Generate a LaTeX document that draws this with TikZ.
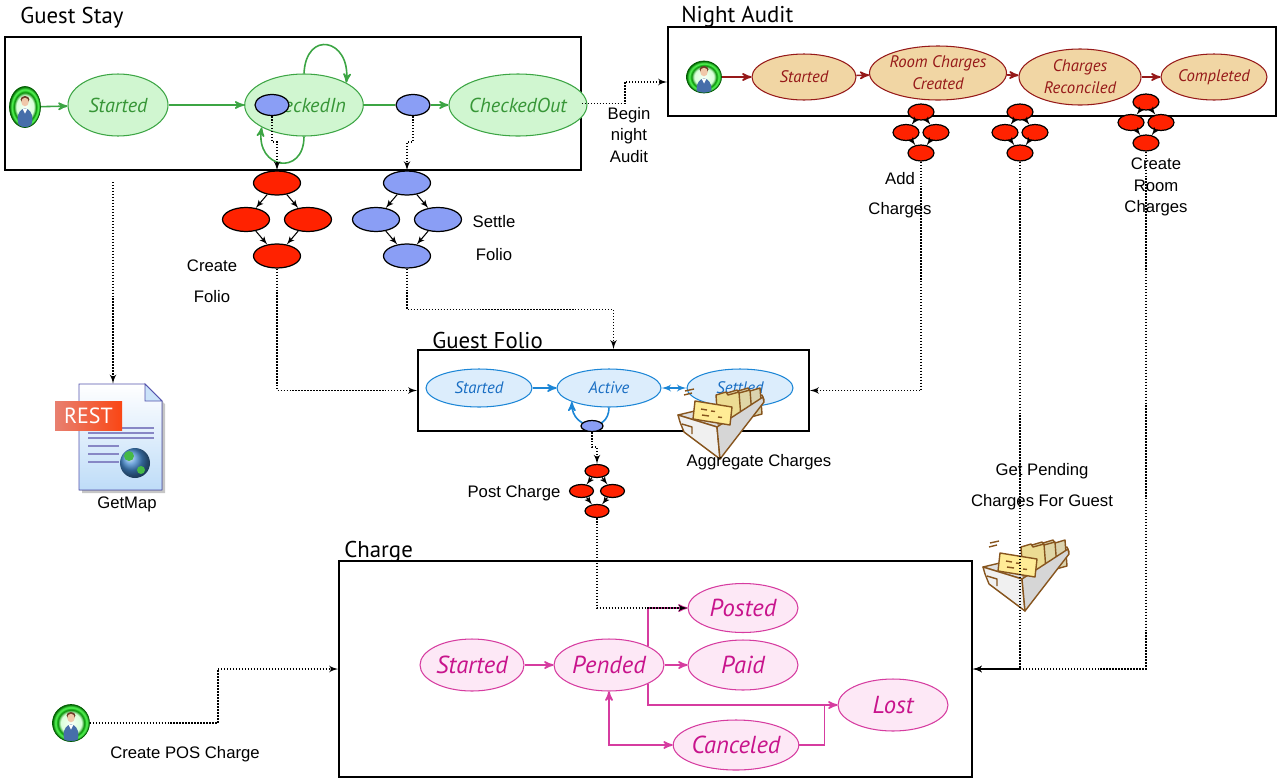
\documentclass[tikz,border=0pt]{standalone}
\usepackage{fontspec}
\setmainfont{Liberation Sans}
\newfontfamily\statefont{PT Sans}
\usetikzlibrary{arrows,shapes,positioning}

\definecolor{stayGreen}{RGB}{60,165,68}
\definecolor{stayFill}{RGB}{208,246,208}
\definecolor{stayText}{RGB}{55,150,55}
\definecolor{auditRed}{RGB}{150,25,25}
\definecolor{auditFill}{RGB}{241,214,164}
\definecolor{folioBlue}{RGB}{28,134,214}
\definecolor{folioFill}{RGB}{220,237,252}
\definecolor{folioText}{RGB}{25,110,195}
\definecolor{chargePink}{RGB}{214,60,160}
\definecolor{chargeFill}{RGB}{253,232,246}
\definecolor{chargeText}{RGB}{200,20,140}
\definecolor{flowRed}{RGB}{255,34,0}
\definecolor{flowBlue}{RGB}{138,158,245}
\definecolor{trayBrown}{RGB}{135,85,30}
\definecolor{cardYellow}{RGB}{255,236,150}
\definecolor{pageBlue}{RGB}{190,220,248}
\definecolor{globeBlue}{RGB}{70,140,210}
\definecolor{tagLeft}{RGB}{232,128,112}
\definecolor{tagRight}{RGB}{250,70,20}
\definecolor{skin}{RGB}{240,200,170}
\definecolor{hair}{RGB}{110,60,40}
\definecolor{bodyBlue}{RGB}{70,110,170}

\pgfdeclareradialshading{actorring}{\pgfpoint{0bp}{0bp}}{color(0bp)=(green!3);color(14bp)=(green!15);color(18bp)=(green!55!black);color(21bp)=(green!65);color(25bp)=(green!40!black);color(50bp)=(green!40!black)}

\tikzstyle{ell_state} = [ellipse, inner sep=0pt, line width=0.6pt]
\tikzstyle{stay} = [ell_state, draw=stayGreen, fill=stayFill, text=stayText, font=\statefont\itshape\fontsize{11.5}{14}\selectfont]
\tikzstyle{audit} = [ell_state, draw=auditRed, fill=auditFill, text=auditRed, align=center, font=\statefont\itshape\fontsize{9.5}{12.5}\selectfont]
\tikzstyle{folio} = [ell_state, draw=folioBlue, fill=folioFill, text=folioText, font=\statefont\itshape\fontsize{9.5}{12}\selectfont]
\tikzstyle{charge} = [ell_state, draw=chargePink, fill=chargeFill, text=chargeText, font=\statefont\itshape\fontsize{14}{16}\selectfont]
\tikzstyle{act_red} = [ellipse, draw, line width=0.7pt, fill=flowRed, inner sep=0pt]
\tikzstyle{act_blue} = [ellipse, draw, line width=0.7pt, fill=flowBlue, inner sep=0pt]
\tikzstyle{container} = [draw, line width=1pt, inner sep=0pt]
\tikzstyle{title} = [anchor=base west, inner sep=0pt, font=\statefont\fontsize{13}{15}\selectfont]
\tikzstyle{op_text} = [align=center, inner sep=0pt, font=\fontsize{9.5}{12}\selectfont]
\tikzstyle{call} = [->, >=latex', line width=0.8pt, dash pattern=on 0.8pt off 0.9pt]
\tikzstyle{flowline} = [->, >=latex', line width=0.6pt]
\tikzstyle{go_stay} = [->, >=stealth', draw=stayGreen, line width=0.9pt]
\tikzstyle{go_audit} = [->, >=stealth', draw=auditRed, line width=0.9pt]
\tikzstyle{go_folio} = [->, >=stealth', draw=folioBlue, line width=0.9pt]
\tikzstyle{go_charge} = [->, >=stealth', draw=chargePink, line width=0.9pt]
\tikzstyle{actor_icon} = [ellipse, inner sep=0pt, draw=green!35!black, line width=0.4pt, shading=actorring,
  path picture={
    \coordinate (actorMid) at (path picture bounding box.center);
    \fill[bodyBlue] ([yshift=-0.24cm]actorMid) ellipse (0.15cm and 0.21cm);
    \fill[white] ([yshift=-0.04cm]actorMid) -- ++(-0.045cm,0) -- ++(0.045cm,-0.09cm) -- ++(0.045cm,0.09cm) -- cycle;
    \fill[hair] ([yshift=0.15cm]actorMid) ellipse (0.09cm and 0.07cm);
    \fill[skin] ([yshift=0.1cm]actorMid) ellipse (0.075cm and 0.085cm);
  }]

% four activities: top, left, right, bottom
\newcommand{\flowdiamond}[5]{%
  \node[#3] (#1T) at #2 {};
  \node[#3, on grid, below left=#5 and #4 of #1T] (#1L) {};
  \node[#3, on grid, below right=#5 and #4 of #1T] (#1R) {};
  \node[#3, on grid, below right=#5 and #4 of #1L] (#1B) {};
  \draw[flowline] (#1T) -- (#1L);
  \draw[flowline] (#1T) -- (#1R);
  \draw[flowline] (#1L) -- (#1B);
  \draw[flowline] (#1R) -- (#1B);
}

% card tray, #1 = top left corner
\newcommand{\cardfile}[1]{%
  \begin{scope}[shift={#1}, draw=trayBrown, line width=0.8pt, line join=round]
    \filldraw[fill=gray!25] (0,23) -- (84,3) -- (86,8) -- (39,35) -- cycle;
    \filldraw[fill=cardYellow!60!gray!70] (60,-1) -- (70,-4) -- (72,-1) -- (82,-4) -- (84,22) -- (62,28) -- cycle;
    \filldraw[fill=cardYellow!70!gray!80] (49,1) -- (59,-2) -- (61,1) -- (72,-2) -- (74,24) -- (51,30) -- cycle;
    \filldraw[fill=cardYellow!85!gray] (38,3) -- (48,0) -- (50,3) -- (61,0) -- (63,26) -- (40,32) -- cycle;
    \filldraw[fill=gray!12] (0,23) -- (39,35) -- (42,67) -- (6,40) -- (2,30) -- cycle;
    \filldraw[fill=gray!32] (39,35) -- (85,5) -- (86,10) -- (42,67) -- cycle;
    \draw (4,32) -- (14,35) -- (14,42);
    \filldraw[fill=cardYellow] (17,9) -- (54,15) -- (52,33) -- (15,27) -- cycle;
    \draw (23,17) -- (29,18) (33,19) -- (37,19.5) (24,23) -- (31,24) (40,25) -- (44,25.5);
    \draw (7,-1) -- (16,-3) (6,3) -- (14,1);
  \end{scope}}

% web document with a REST tag, #1 = top left corner of the page
\newcommand{\restdoc}[1]{%
  \begin{scope}[shift={#1}]
    \fill[gray!45] (3,3) -- (69,3) -- (86,20) -- (86,109) -- (3,109) -- cycle;
    \filldraw[draw=blue!35!gray, line width=0.5pt, top color=white, bottom color=pageBlue] (0,0) -- (66,0) -- (83,17) -- (83,106) -- (0,106) -- cycle;
    \filldraw[draw=blue!35!gray, line width=0.5pt, fill=pageBlue!80] (66,0) -- (66,17) -- (83,17) -- cycle;
    \foreach \ly in {44,49,54} \draw[blue!35!gray!70, line width=0.6pt] (9,\ly) -- (75,\ly);
    \foreach \ly in {62,70,78} \draw[blue!35!gray!70, line width=0.6pt] (9,\ly) -- (40,\ly);
    \shade[ball color=globeBlue] (56,79) circle (15);
    \fill[green!45!gray] (50,72) circle (5) (62,86) circle (4);
    \shade[left color=tagLeft, right color=tagRight] (-24,17) rectangle (43,46);
    \node[text=white, font=\statefont\fontsize{12.5}{12.5}\selectfont] (restTag) at (9.5,31.5) {REST};
  \end{scope}}

\begin{document}
\begin{tikzpicture}[x=0.02cm, y=-0.02cm]
    \useasboundingbox (0,0) rectangle (1278,778);

    % Guest Stay
    \node[title] (stayTitle) at (20,23) {Guest Stay};
    \node[container, minimum width=11.52cm, minimum height=2.66cm] (stay) at (293,103.5) {};
    \node[actor_icon, minimum width=0.62cm, minimum height=0.82cm] (guest) at (25,107) {};
    \node[stay, minimum width=2cm, minimum height=1.24cm] (sStarted) at (118,105) {Started};
    \node[stay, minimum width=2.36cm, minimum height=1.24cm] (sIn) at (304,105) {CheckedIn};
    \node[stay, minimum width=1.92cm, minimum height=1.24cm] (sOut) at (518,105) {CheckedOut};
    \draw[go_stay] (guest) -- (sStarted);
    \draw[go_stay] (sStarted) -- (sIn);
    \draw[go_stay] (sIn.north) .. controls +(2,-44) and +(4,-44) .. (sIn.north east);
    \draw[go_stay] (sIn.south) .. controls +(0,40) and +(-6,42) .. (sIn.south west);
    \node[act_blue, minimum width=0.68cm, minimum height=0.42cm] (createPick) at (272,105) {};
    \node[act_blue, minimum width=0.68cm, minimum height=0.42cm] (settlePick) at (413,105) {};
    \draw[go_stay, -] (sIn) -- (settlePick);
    \draw[go_stay] (settlePick) -- (sOut);

    % create / settle folio
    \flowdiamond{cf}{(277,183)}{act_red, minimum width=0.94cm, minimum height=0.48cm}{0.62cm}{0.73cm}
    \flowdiamond{sf}{(407,183)}{act_blue, minimum width=0.94cm, minimum height=0.48cm}{0.62cm}{0.73cm}
    \node[op_text, font=\fontsize{9.5}{17.5}\selectfont] (cfLabel) at (212,281) {Create\\Folio};
    \node[op_text, font=\fontsize{9.5}{18.5}\selectfont] (sfLabel) at (494,238) {Settle\\Folio};

    % Night Audit
    \node[title] (auditTitle) at (681,22) {Night Audit};
    \node[container, minimum width=12.16cm, minimum height=1.78cm] (audit) at (972,71.5) {};
    \node[actor_icon, minimum width=0.7cm, minimum height=0.64cm] (auditor) at (704,77) {};
    \node[audit, minimum width=2.08cm, minimum height=0.92cm] (aStarted) at (804,77) {Started};
    \node[audit, minimum width=2.48cm, minimum height=1.08cm] (aRoom) at (938,73) {Room Charges\\Created};
    \node[audit, minimum width=2.44cm, minimum height=1.12cm] (aRecon) at (1080,77) {Charges\\Reconciled};
    \node[audit, minimum width=2.12cm, minimum height=0.92cm] (aDone) at (1214,77) {Completed};
    \draw[go_audit] (auditor) -- (aStarted);
    \draw[go_audit] (aStarted) -- (aRoom);
    \draw[go_audit] (aRoom) -- (aRecon);
    \draw[go_audit] (aRecon) -- (aDone);
    \node[op_text] (beginLabel) at (629,135) {Begin\\night\\Audit};

    \flowdiamond{ac}{(921,112)}{act_red, minimum width=0.52cm, minimum height=0.32cm}{0.3cm}{0.41cm}
    \flowdiamond{rc}{(1020,112)}{act_red, minimum width=0.52cm, minimum height=0.32cm}{0.3cm}{0.41cm}
    \flowdiamond{cr}{(1146,102)}{act_red, minimum width=0.52cm, minimum height=0.32cm}{0.3cm}{0.41cm}
    \node[op_text, font=\fontsize{9.5}{17}\selectfont] (acLabel) at (900,195) {Add\\Charges};
    \node[op_text, font=\fontsize{9.5}{12.2}\selectfont] (crLabel) at (1156,187) {Create\\Room\\Charges};

    % Guest Folio
    \node[title] (folioTitle) at (432,348) {Guest Folio};
    \node[container, minimum width=7.82cm, minimum height=1.62cm] (folio) at (613.5,390.5) {};
    \node[folio, minimum width=2.12cm, minimum height=0.76cm] (fStarted) at (479,388) {Started};
    \node[folio, minimum width=2.08cm, minimum height=0.76cm] (fActive) at (609,388) {Active};
    \node[folio, minimum width=2.12cm, minimum height=0.76cm] (fSettled) at (740,388) {Settled};
    \draw[go_folio] (fStarted) -- (fActive);
    \draw[go_folio, latex'-latex'] (fActive) -- (fSettled);
    \draw[go_folio] (fActive.south) .. controls +(0,26) and +(0,28) .. (fActive.south west);
    \node[act_blue, minimum width=0.44cm, minimum height=0.22cm] (chargePick) at (592,426) {};
    \cardfile{(678,392)}
    \node[op_text] (aggLabel) at (759,462) {Aggregate Charges};

    \flowdiamond{pc}{(597,471)}{act_red, minimum width=0.48cm, minimum height=0.26cm}{0.31cm}{0.4cm}
    \node[op_text] (pcLabel) at (514,493) {Post Charge};

    % Charge
    \node[title] (chargeTitle) at (344,557) {Charge};
    \node[container, minimum width=12.66cm, minimum height=4.32cm] (charge) at (655.5,669) {};
    \node[charge, minimum width=2.08cm, minimum height=1.04cm] (cStarted) at (472,665) {Started};
    \node[charge, minimum width=2.2cm, minimum height=1.04cm] (cPended) at (609,665) {Pended};
    \node[charge, minimum width=2.2cm, minimum height=0.98cm] (cPosted) at (743,608) {Posted};
    \node[charge, minimum width=2.2cm, minimum height=1cm] (cPaid) at (743,665) {Paid};
    \node[charge, minimum width=2.2cm, minimum height=1.04cm] (cLost) at (893,705) {Lost};
    \node[charge, minimum width=2.16cm, minimum height=1cm] (cCanceled) at (736,745) {Canceled};
    \draw[go_charge] (cStarted) -- (cPended);
    \draw[go_charge] (cPended) -- (cPaid);
    \draw[go_charge] (cPended.north east) |- (cPosted.west);
    \draw[go_charge] (cPended.south east) |- (cLost.west);
    \draw[go_charge, -] (cCanceled.east) -- ++(25,0) -- ++(0,-40);
    \draw[go_charge, <->] (cPended.south) |- (cCanceled.west);

    % services and callers
    \restdoc{(79,384)}
    \node[inner sep=0pt, minimum width=1.66cm, minimum height=2.12cm] (getmap) at (120.5,437) {};
    \node[op_text] (getmapLabel) at (127,504) {GetMap};
    \coordinate (stayMap) at (113,182);
    \node[actor_icon, minimum width=0.74cm, minimum height=0.74cm] (posClerk) at (71,723) {};
    \node[op_text] (posLabel) at (185,754) {Create POS Charge};
    \cardfile{(983,544)}
    \node[op_text, font=\fontsize{9.5}{17.6}\selectfont] (pendLabel) at (1042,487) {Get Pending\\Charges For Guest};

    % calls between the machines
    \draw[call] (stay.east) -- ++(43,0) |- ([yshift=-0.21cm]audit.west);
    \draw[call] (createPick.south) -- ++(0,26) -| (cfT.north);
    \draw[call] (settlePick.south) -- ++(0,26) -| (sfT.north);
    \draw[call] (cfB.south) |- (folio.west);
    \draw[call] (sfB.south) -- ++(0,41) -| (folio.north);
    \draw[call] (acB.south) |- (folio.east);
    \draw[call] (rcB.south) |- (charge.east);
    \draw[call] (crB.south) |- (charge.east);
    \draw[call] (chargePick.south) -- ++(0,15) -| (pcT.north);
    \draw[call] (pcB.south) |- (cPosted.west);
    \draw[call] (stayMap) -- (stayMap |- getmap.north);
    \draw[call] (posClerk.east) -- ++(128,0) |- (charge.west);
\end{tikzpicture}
\end{document}
